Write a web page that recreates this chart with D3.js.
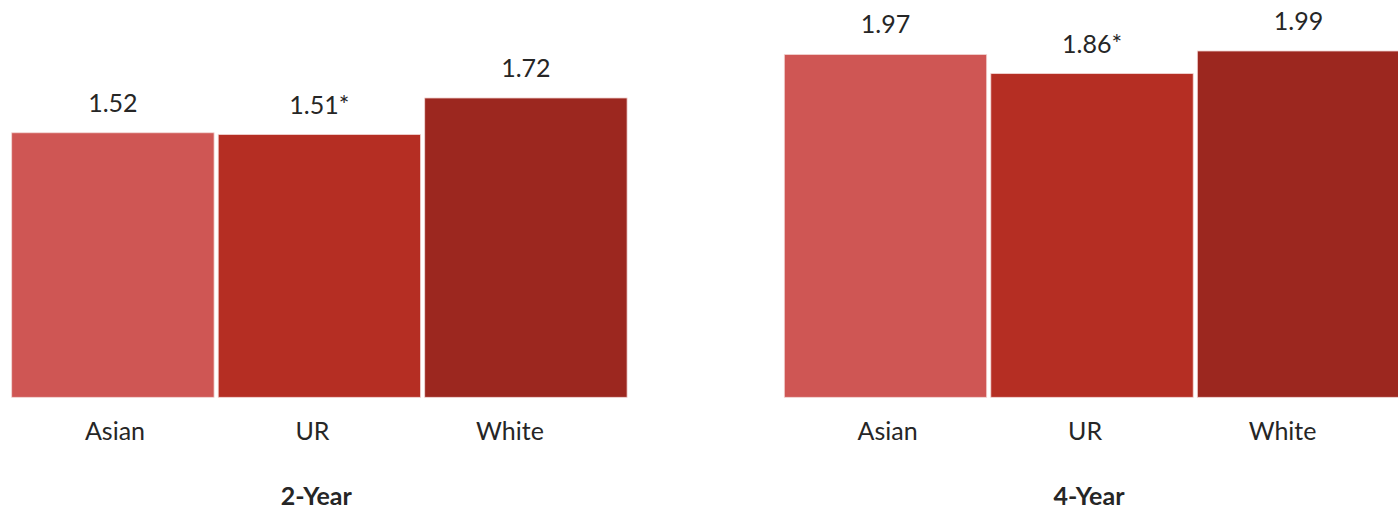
<!DOCTYPE html>
<html>
<head>
<meta charset="utf-8">
<script src="https://cdn.jsdelivr.net/npm/d3@7"></script>
<style>
  body { margin: 0; background: #fff; }
  svg { display: block; font-family: Lato, "Open Sans", sans-serif; }
</style>
</head>
<body>
<div id="chart"></div>
<script>
(function () {
  // Data

  const groups = ["2-Year", "4-Year"];
  const categories = ["Asian", "UR", "White"];
  const values2Year = [1.52, 1.51, 1.72];
  const values4Year = [1.97, 1.86, 1.99];
  const labels2Year = ["1.52", "1.51*", "1.72"];
  const labels4Year = ["1.97", "1.86*", "1.99"];
  const colors = ["#cf5654", "#b52e23", "#9c271f"];

  // Config

  const width = 1398;
  const height = 511;
  const baseline = 397.3;

  const rows = [];
  groups.forEach((g, gi) => {
    const vals = gi === 0 ? values2Year : values4Year;
    const labs = gi === 0 ? labels2Year : labels4Year;
    categories.forEach((c, ci) => {
      rows.push({ group: g, cat: c, value: vals[ci], label: labs[ci] });
    });
  });

  const svg = d3.select("#chart")
    .append("svg")
    .attr("width", width)
    .attr("height", height);

  // Scales

  const xGroup = d3.scaleBand()
    .domain(groups)
    .range([11.7, 1399.7])
    .paddingInner(0.2035)
    .paddingOuter(0);

  const xCat = d3.scaleBand()
    .domain(categories)
    .range([0, xGroup.bandwidth()])
    .paddingInner(0.02)
    .paddingOuter(0);

  // category labels sit on a slightly narrower band than the bars
  const xCatLabel = d3.scaleBand()
    .domain(categories)
    .range([4.5, 597])
    .padding(0);

  const y = d3.scaleLinear()
    .domain([0, 2.283])
    .range([baseline, 0]);

  const color = d3.scaleOrdinal().domain(categories).range(colors);

  // Bars

  const g = svg.selectAll("g.group")
    .data(groups)
    .join("g")
    .attr("class", "group")
    .attr("transform", d => `translate(${xGroup(d)},0)`);

  g.selectAll("rect.bar")
    .data(gName => rows.filter(r => r.group === gName))
    .join("rect")
    .attr("class", "bar")
    .attr("x", d => xCat(d.cat))
    .attr("y", d => y(d.value))
    .attr("width", xCat.bandwidth())
    .attr("height", d => y(0) - y(d.value))
    .attr("fill", d => color(d.cat))
    .attr("stroke", "#f3d6d4")
    .attr("stroke-width", 0.8);

  // Value labels

  g.selectAll("text.value")
    .data(gName => rows.filter(r => r.group === gName))
    .join("text")
    .attr("class", "value")
    .attr("x", d => xCat(d.cat) + xCat.bandwidth() / 2)
    .attr("y", d => y(d.value) - 21)
    .attr("text-anchor", "middle")
    .attr("font-size", 25)
    .attr("fill", "#262626")
    .text(d => d.label);

  // Category axis

  g.each(function () {
    const axis = d3.axisBottom(xCatLabel).tickSize(0).tickPadding(0);
    const ga = d3.select(this).append("g")
      .attr("class", "xAxis")
      .attr("transform", `translate(0,${baseline})`)
      .call(axis);
    ga.select(".domain").remove();
    ga.selectAll(".tick text")
      .attr("dy", null)
      .attr("y", 42.5)
      .attr("font-size", 25)
      .attr("font-family", "Lato, 'Open Sans', sans-serif")
      .attr("fill", "#262626");
  });

  // Group labels

  g.append("text")
    .attr("class", "group-label")
    .attr("x", xGroup.bandwidth() / 2 - 3)
    .attr("y", 505)
    .attr("text-anchor", "middle")
    .attr("font-size", 25)
    .attr("font-weight", "bold")
    .attr("fill", "#262626")
    .text(d => d);
})();
</script>
</body>
</html>
